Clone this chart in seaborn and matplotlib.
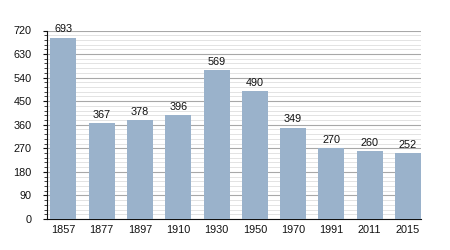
import matplotlib
matplotlib.use("Agg")
import matplotlib.pyplot as plt
import seaborn as sns
import pandas as pd
from matplotlib.ticker import MultipleLocator

years = ["1857", "1877", "1897", "1910", "1930", "1950", "1970", "1991", "2011", "2015"]
population = [693, 367, 378, 396, 569, 490, 349, 270, 260, 252]
yticks = [0, 90, 180, 270, 360, 450, 540, 630, 720]

sns.set_style("white")
plt.rcParams['font.family'] = ['Liberation Sans', 'DejaVu Sans']

df = pd.DataFrame({"year": years, "pop": population})
fig = plt.figure(figsize=(4.5, 2.5), dpi=100)
ax = fig.add_axes([47/450, 1-219/250, 374/450, (219-30.5)/250])

ax.set_ylim(0, 720)
ax.yaxis.set_major_locator(MultipleLocator(90))
ax.yaxis.set_minor_locator(MultipleLocator(18))
ax.grid(which="major", axis="y", color="#a8a8a8", linewidth=0.8, zorder=0)
ax.grid(which="minor", axis="y", color="#dedede", linewidth=0.6, zorder=0)
ax.set_axisbelow(True)

sns.barplot(data=df, x="year", y="pop", color="#9ab2cb", saturation=1,
            width=0.68, ax=ax, zorder=3, edgecolor="none", linewidth=0)

for i, v in enumerate(population):
    ax.text(i, v + 12, str(v), ha="center", va="bottom", fontsize=7.8, color="#111111")

ax.set_yticks(yticks)
ax.set_xlabel("")
ax.set_ylabel("")
ax.tick_params(axis="both", colors="#111111")
ax.tick_params(axis="x", labelsize=7.8, length=0, pad=4)
ax.tick_params(axis="y", which="major", labelsize=7.8, length=3, width=0.8, left=True, pad=8)
ax.tick_params(axis="y", which="minor", length=2, width=0.6, left=True)
for s in ["top", "right"]:
    ax.spines[s].set_visible(False)
ax.spines["left"].set_color("#111111")
ax.spines["bottom"].set_color("#111111")
ax.spines["left"].set_linewidth(0.8)
ax.spines["bottom"].set_linewidth(0.8)
ax.set_xlim(-0.43, 9.34)

fig.savefig("out.png", dpi=100)
